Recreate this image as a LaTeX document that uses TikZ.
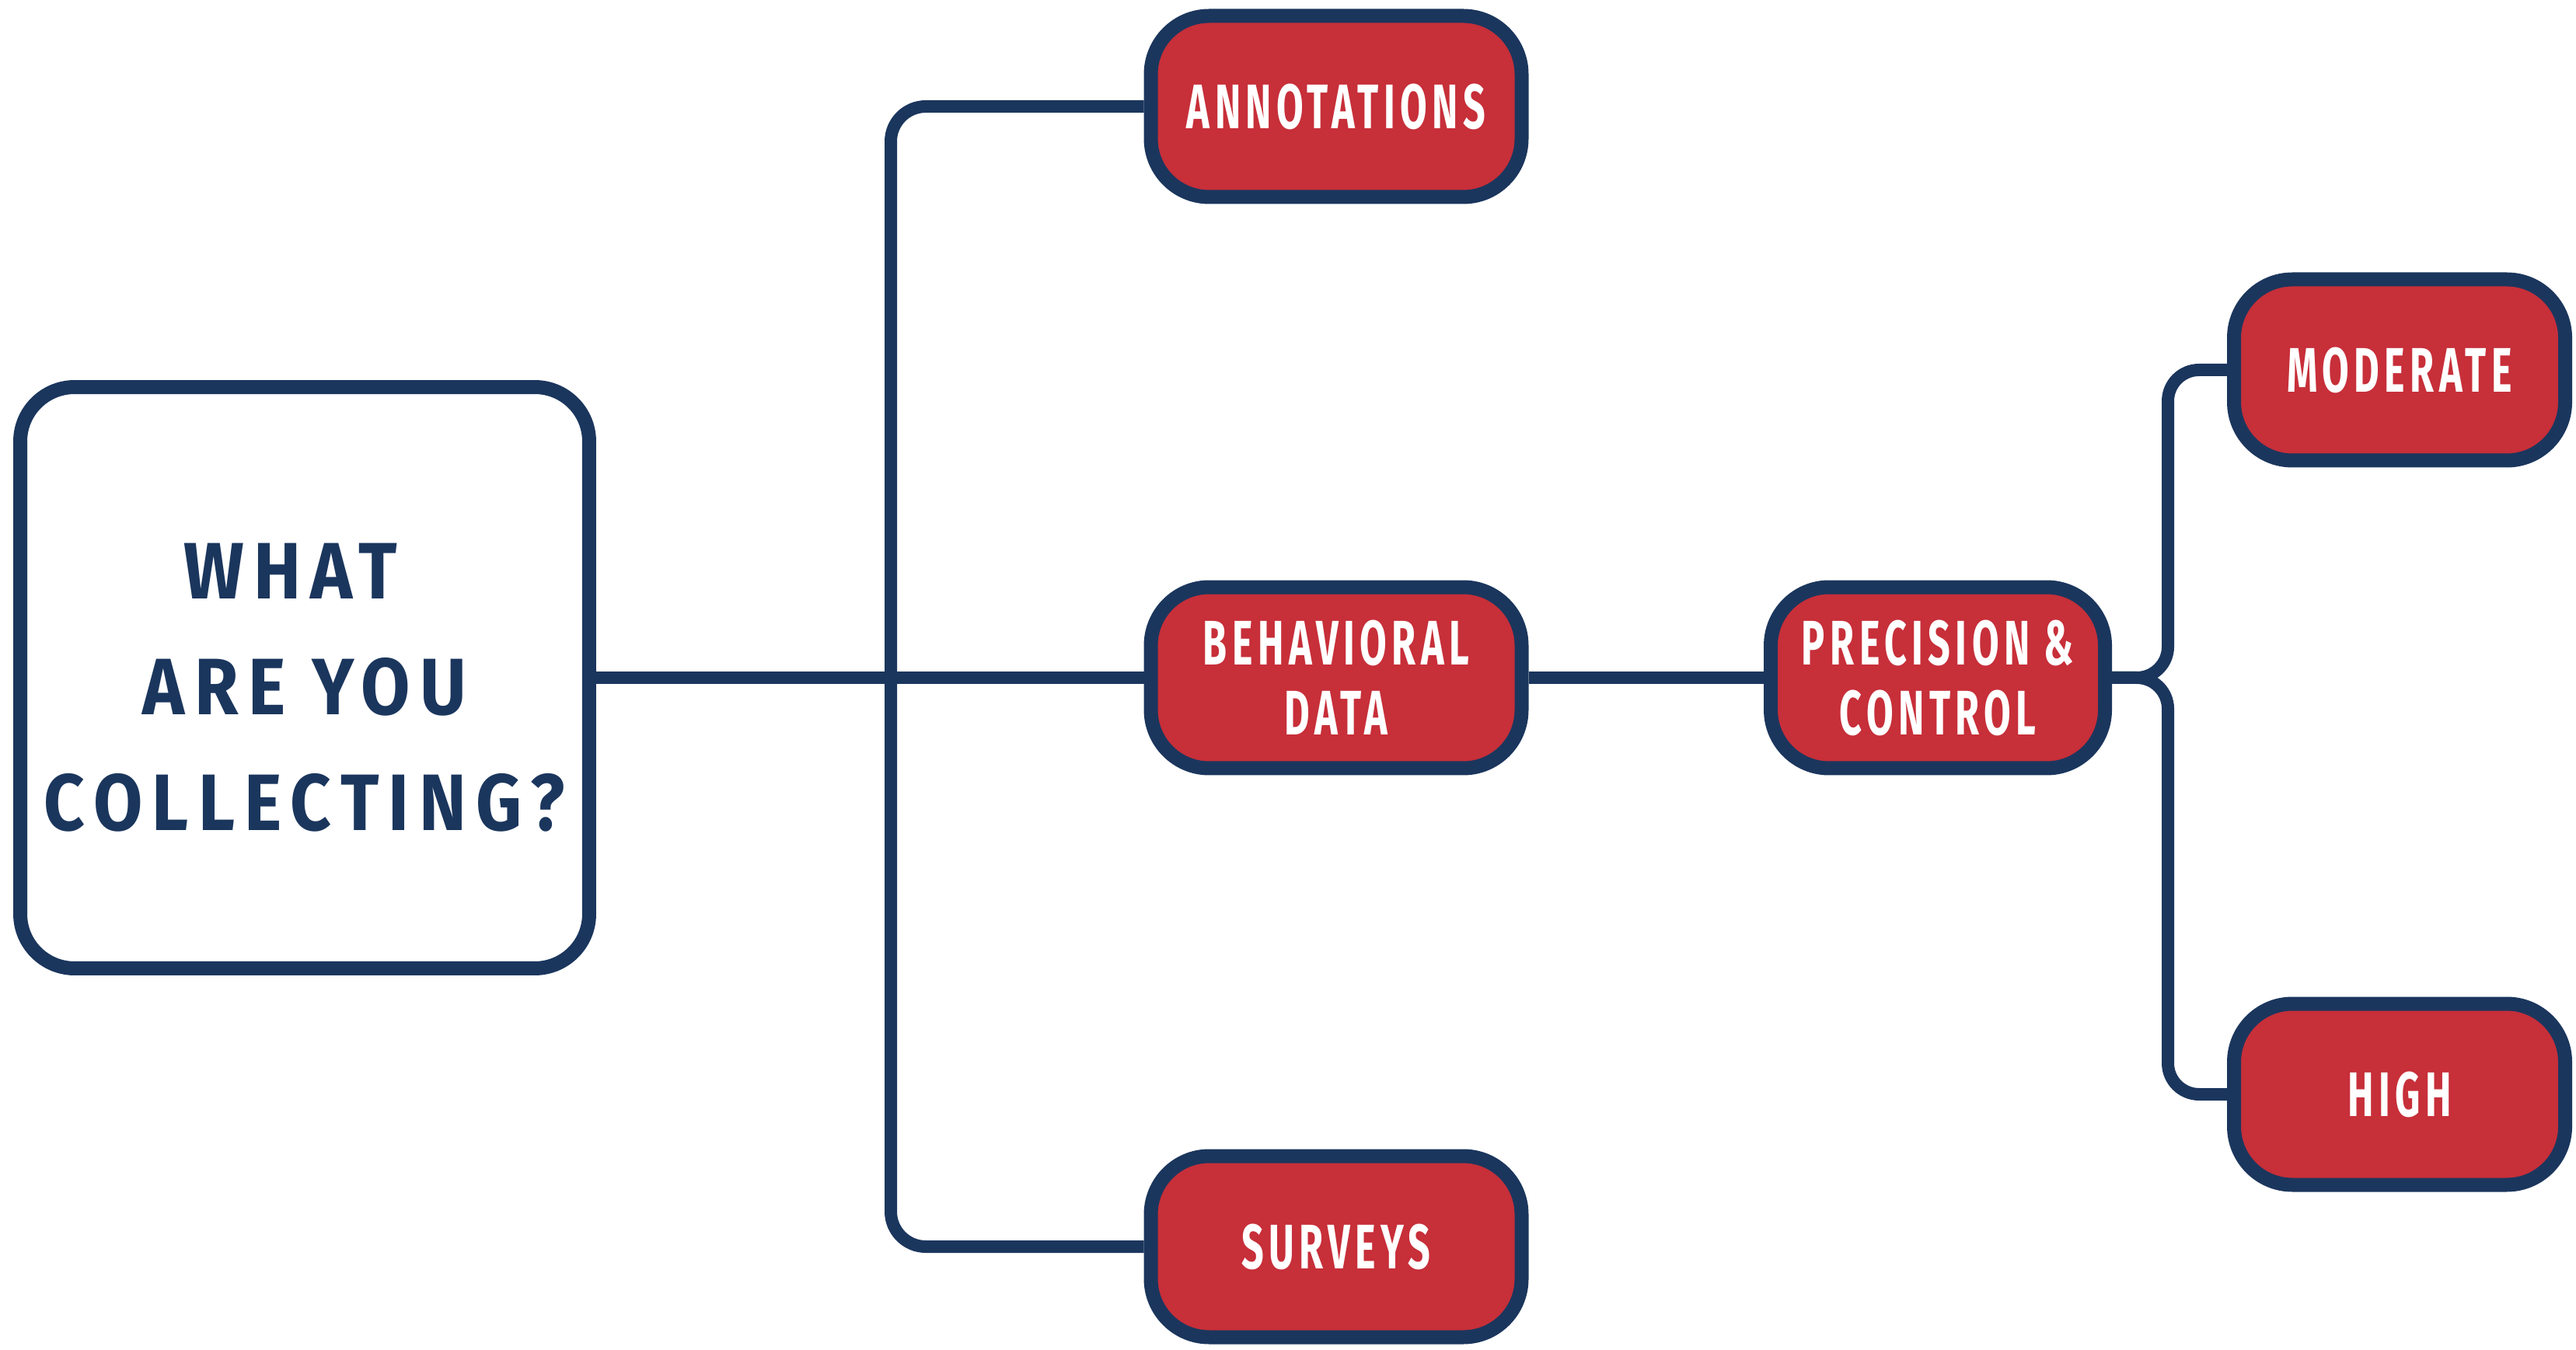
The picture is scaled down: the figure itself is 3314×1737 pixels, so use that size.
\documentclass[tikz,border=0pt]{standalone}
\usepackage{fontspec}
\setmainfont{Fira Sans}
\newfontfamily\boxfont[FakeStretch=0.62,LetterSpace=8]{Fira Sans}
\newfontfamily\mainfont[FakeStretch=0.89,LetterSpace=12]{Fira Sans}
\definecolor{navy}{HTML}{1B365D}
\definecolor{boxred}{HTML}{C72F39}
\begin{document}
\begin{tikzpicture}[x=0.1pt,y=-0.1pt,line join=round]
\tikzset{
  conn/.style={draw=navy,line width=1.6pt},
  redbox/.style={draw=navy,line width=1.8pt,fill=boxred,rounded corners=7.5pt,
    minimum height=23.3pt,text=white,align=center,inner sep=0pt,
    font=\boxfont\bfseries\fontsize{8.1}{9}\selectfont},
  mainbox/.style={draw=navy,line width=1.8pt,fill=white,rounded corners=7pt,
    minimum width=73.2pt,minimum height=74.8pt,inner sep=0pt},
  maintext/.style={text=navy,align=center,inner sep=0pt,
    font=\mainfont\bfseries\fontsize{10.3}{14.9}\selectfont}
}
\useasboundingbox (0,0) rectangle (3314,1737);
\fill[white] (0,0) rectangle (3314,1737);

\node[mainbox] (main) at (392,872) {};
\node[maintext] (mtext) at (392,885) {WHAT\kern3.6pt\\ARE YOU\\COLLECTING?};
\node[redbox,minimum width=47.7pt] (A) at (1719,137) {ANNOTATIONS};
\node[redbox,minimum width=47.7pt] (B) at (1719,872) {BEHAVIORAL\\DATA};
\node[redbox,minimum width=47.7pt] (S) at (1719,1604) {SURVEYS};
\node[redbox,minimum width=43.0pt] (P) at (2493,872) {PRECISION \&\\CONTROL};
\node[redbox,minimum width=42.6pt] (M) at (3087,476) {MODERATE};
\node[redbox,minimum width=42.6pt] (H) at (3087,1408) {HIGH};

\coordinate (tr) at (1146,872);
\coordinate (br) at (2789,872);

\draw[conn] (main.east) -- (B.west);
\draw[conn,rounded corners=4.5pt] (A.west) -| (tr);
\draw[conn,rounded corners=4.5pt] (S.west) -| (tr);
\draw[conn] (B.east) -- (P.west);
\draw[conn,rounded corners=4pt] (P.east) -- (br) |- (M.west);
\draw[conn,rounded corners=4pt] (P.east) -- (br) |- (H.west);
\end{tikzpicture}
\end{document}
